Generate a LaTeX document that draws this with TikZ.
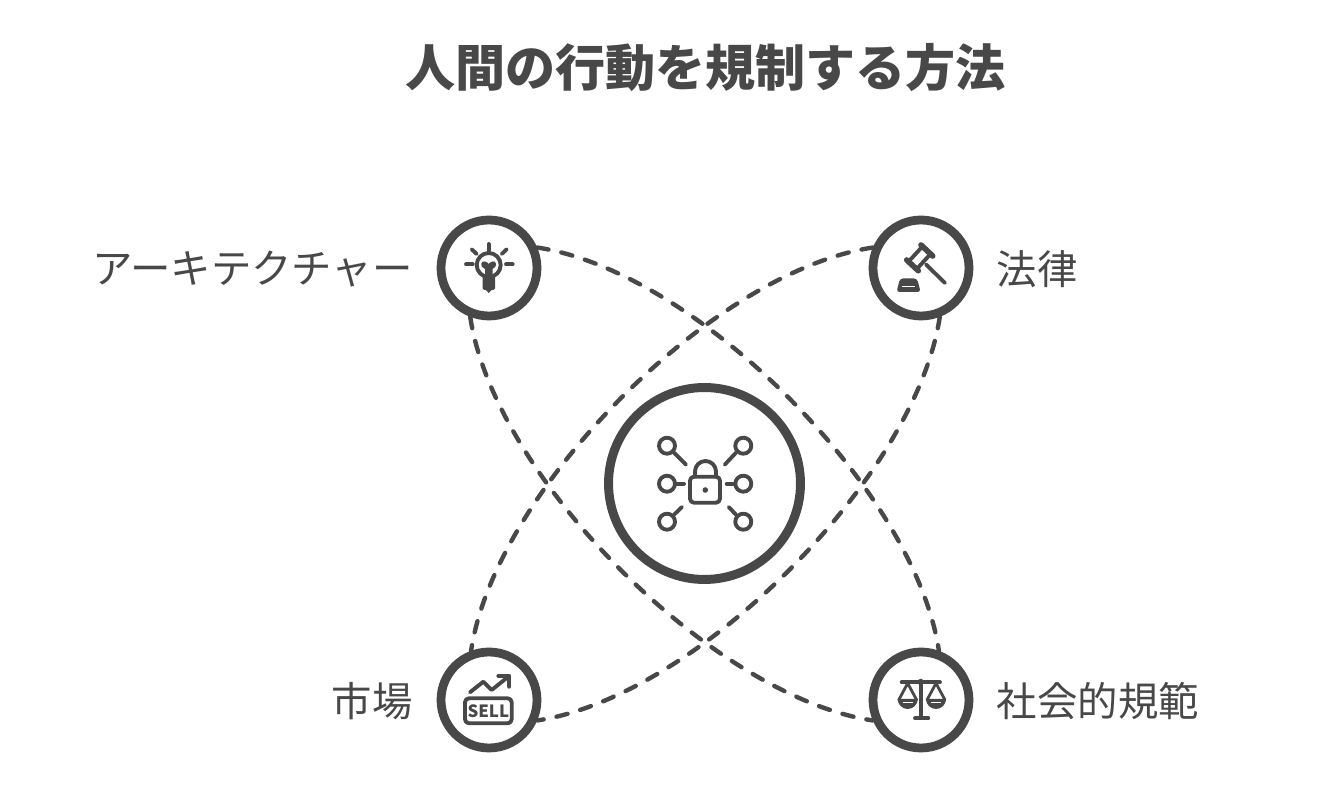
\documentclass[tikz,border=0pt]{standalone}
\usepackage{fontspec}
\setmainfont{Noto Sans CJK JP}
\definecolor{lawgray}{RGB}{72,72,72}
\usetikzlibrary{arrows.meta,positioning,calc}

\begin{document}
\begin{tikzpicture}[x=0.02cm,y=-0.02cm,
  hub/.style={draw=lawgray,circle,line width=5.1pt,minimum size=3.84cm,inner sep=0pt},
  force/.style={draw=lawgray,circle,line width=5pt,minimum size=1.92cm,inner sep=0pt},
  dashline/.style={draw=lawgray,line width=2.5pt,line cap=round,dash pattern=on 6.5pt off 7.5pt},
  icon/.style={draw=lawgray,line width=2.2pt,line cap=round,line join=round},
  tag/.style={font=\fontsize{23}{26}\selectfont,text=lawgray,inner sep=0pt}]
  \useasboundingbox (0,0) rectangle (1320,807);
  % Title
  \node[font=\fontsize{28.5}{32}\selectfont\bfseries,text=lawgray,inner sep=0pt] (title) at (705.5,68) {人間の行動を規制する方法};
  % Circles
  \node[hub] (center) at (704.5,483.5) {};
  \node[force] (arch) at (489,268) {};
  \node[force] (law) at (921,268) {};
  \node[force] (market) at (489,700) {};
  \node[force] (norms) at (921,700) {};
  % Labels
  \node[tag,anchor=east] (archtag) at (413,269) {アーキテクチャー};
  \node[tag,anchor=west] (lawtag) at (996.5,269) {法律};
  \node[tag,anchor=east] (markettag) at (413,701) {市場};
  \node[tag,anchor=west] (normstag) at (996.5,701) {社会的規範};
  % Dashed arcs
  \draw[dashline] (arch.23) .. controls +(160,24) and +(-24,-160) .. (norms.70);
  \draw[dashline] (arch.249) .. controls +(24,160) and +(-160,-24) .. (norms.203);
  \draw[dashline] (law.157) .. controls +(-160,24) and +(24,-160) .. (market.110);
  \draw[dashline] (law.291) .. controls +(-24,160) and +(160,-24) .. (market.337);
  % Lock with keys
  \foreach \x/\y in {667/445.7,743.3/445.7,667/483.7,743.3/483.7,667/521.7,743.3/521.7}{
    \draw[icon] (\x,\y) circle (8);
  }
  \foreach \xa/\ya/\xb/\yb in {674/452.7/686/464.7,736/452.7/724.7/464.7,676/483.7/684/483.7,726.7/483.7/735/483.7,674/514.7/682/507,736/514.7/728.7/507}{
    \draw[icon] (\xa,\ya) -- (\xb,\yb);
  }
  \draw[icon,rounded corners=0.08cm] (690,476.7) rectangle (720,502.7);
  \draw[icon] (695,476.7) -- (695,471.5) arc[start angle=180,end angle=360,x radius=10.5,y radius=10.5] -- (716,476.7);
  \fill[lawgray] (705.3,490) circle (2.8);
  % Light bulb
  \foreach \xa/\ya/\xb/\yb in {488.7/244/488.7/250.7,466/264.3/472.7/264.3,506/264.3/512.7/264.3,471.7/249.3/476.7/254,506.7/249.3/501.7/254}{
    \draw[icon] (\xa,\ya) -- (\xb,\yb);
  }
  \draw[icon] (488.7,265) circle (12);
  \fill[lawgray] (485,277) -- (485,269) .. controls (479,267) and (481,260) .. (485,261.5) .. controls (487,262) and (488,263) .. (488.7,264) .. controls (489.5,263) and (490.5,262) .. (492.5,261.5) .. controls (496.5,260) and (498,267) .. (492.5,269) -- (492.5,277) -- cycle;
  \fill[lawgray,rounded corners=0.03cm] (482.7,276) rectangle (495,290);
  \fill[lawgray] (484,288) -- (493.5,288) -- (488.7,293) -- cycle;
  % Gavel
  \draw[icon,fill=white] (930.6,253.9) -- (922.8,246.1) -- (908.4,261.8) -- (916.2,269.6) -- cycle;
  \draw[icon,line width=3.2pt] (921,245) -- (932.7,256);
  \draw[icon,line width=3.2pt] (906.7,260) -- (918.3,270.7);
  \draw[icon] (926,264.5) -- (945,283);
  \fill[lawgray,rounded corners=0.06cm] (900,278.5) -- (917,278.5) -- (920.7,292) -- (896.5,292) -- cycle;
  \draw[white,line width=0.9pt] (902,286.5) -- (915,286.5);
  % Sell sign
  \draw[icon] (470,692.3) -- (483.3,681.7) -- (491.7,690) -- (508.3,676.7);
  \draw[icon] (498.3,676) -- (509.3,676) -- (509.3,686.7);
  \draw[icon,rounded corners=0.08cm] (465,698.3) rectangle (511.7,723.3);
  \node[font=\fontsize{9.6}{10}\selectfont\bfseries,text=lawgray,inner sep=0pt] (sell) at (488.3,711) {SELL};
  % Scales
  \draw[icon] (901.7,682.3) -- (940,682.3);
  \draw[icon] (920.7,682.3) -- (920.7,718);
  \draw[icon] (915,718.3) -- (928.3,718.3);
  \fill[lawgray] (920.7,682) circle (3.2);
  \foreach \x in {907.7,936}{
    \draw[icon,line width=1.6pt] (\x-9,700) -- (\x,683.3) -- (\x+9,700);
    \fill[lawgray] (\x-10,699) arc[start angle=180,end angle=360,x radius=10,y radius=-10] -- cycle;
    \draw[white,line width=0.8pt] (\x-5,702.5) -- (\x+5,702.5);
  }
\end{tikzpicture}
\end{document}
